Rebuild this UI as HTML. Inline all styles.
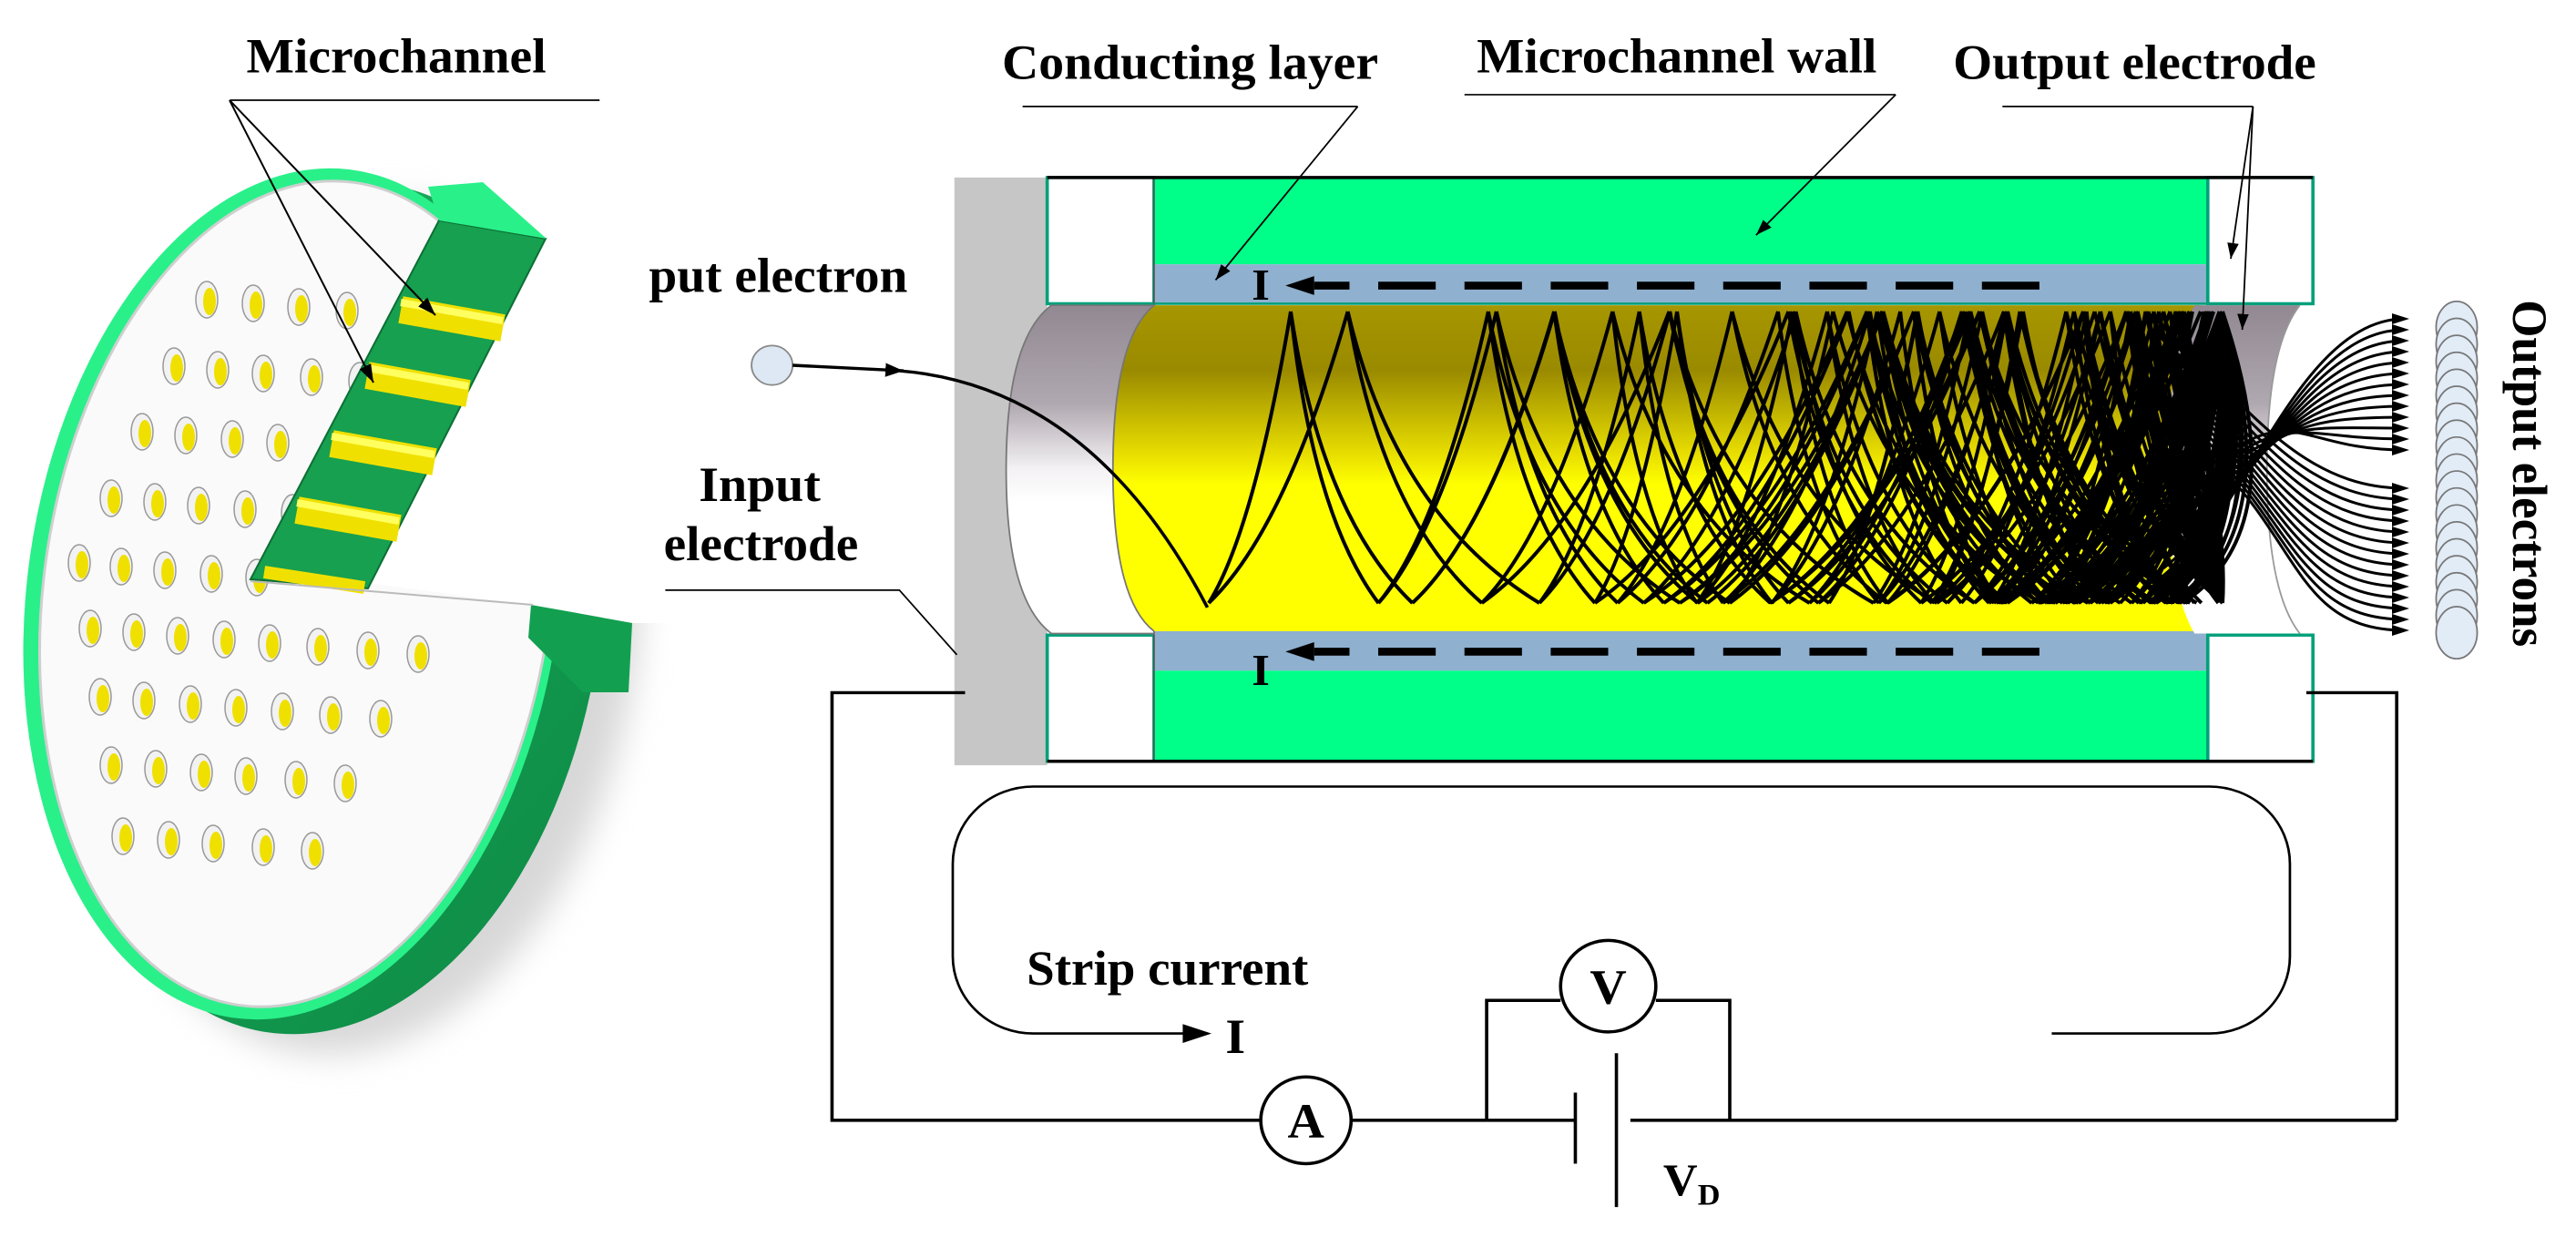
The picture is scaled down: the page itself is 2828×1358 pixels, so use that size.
<!DOCTYPE html>
<html><head><meta charset="utf-8"><style>
html,body{margin:0;padding:0;background:#fff;}
svg{display:block;}
text{font-family:"Liberation Serif",serif;font-weight:bold;fill:#000;}
</style></head><body>
<svg id="s" width="2828" height="1358" viewBox="0 0 2828 1358" xmlns="http://www.w3.org/2000/svg">
<defs>
<linearGradient id="yel" x1="0" y1="0" x2="0" y2="1">
<stop offset="0" stop-color="#a69600"/><stop offset="0.2" stop-color="#9a8a00"/><stop offset="0.45" stop-color="#e6dc00"/><stop offset="0.55" stop-color="#ffff00"/><stop offset="1" stop-color="#ffff00"/></linearGradient>
<linearGradient id="gry" x1="0" y1="0" x2="0" y2="1">
<stop offset="0" stop-color="#918891"/><stop offset="0.3" stop-color="#b0a8b0"/><stop offset="0.5" stop-color="#f4f2f4"/><stop offset="0.6" stop-color="#ffffff"/><stop offset="1" stop-color="#ffffff"/></linearGradient>
<linearGradient id="side" x1="0" y1="0" x2="1" y2="1">
<stop offset="0" stop-color="#18b060"/><stop offset="1" stop-color="#0e8a44"/></linearGradient>
<filter id="blur"><feGaussianBlur stdDeviation="18"/></filter>
<marker id="ahb" viewBox="0 0 10 10" refX="10" refY="5" markerWidth="22" markerHeight="22" markerUnits="userSpaceOnUse" orient="auto"><path d="M0,1 L10,5 L0,9 z"/></marker>
<marker id="ahs" viewBox="0 0 10 10" refX="10" refY="5" markerWidth="20" markerHeight="20" markerUnits="userSpaceOnUse" orient="auto"><path d="M0,1.5 L10,5 L0,8.5 z"/></marker>
</defs>

<g id="disk">
<ellipse cx="400" cy="690" rx="300" ry="470" transform="rotate(8 400 690)" fill="#d8d8d8" filter="url(#blur)"/>
<ellipse cx="360" cy="668" rx="300" ry="470" transform="rotate(8 360 668)" fill="url(#side)"/>
<ellipse cx="322" cy="652" rx="292" ry="470" transform="rotate(8 322 652)" fill="#2af08a"/>
<ellipse cx="326" cy="652" rx="278" ry="456" transform="rotate(8 326 652)" fill="#fafafa" stroke="#cfcfcf" stroke-width="3"/>
<g id="holes"></g>
<polygon points="404,640 599,262 610,150 830,150 830,684 694,684 583,664" fill="#fff"/>
<polygon points="583,664 694,684 690,760 640,760 580,700" fill="#12a050"/>
<polygon points="275,636 482,242 599,262 404,646" fill="#17a04f" stroke="#0c6e35" stroke-width="2"/>
<polygon points="470,205 530,200 600,262 482,242" fill="#2af08a"/>
<g stroke-linecap="butt">
<line x1="440" y1="340" x2="552" y2="360" stroke="#f0e000" stroke-width="30"/>
<line x1="403" y1="412" x2="514" y2="432" stroke="#f0e000" stroke-width="30"/>
<line x1="364" y1="487" x2="477" y2="507" stroke="#f0e000" stroke-width="30"/>
<line x1="326" y1="560" x2="438" y2="580" stroke="#f0e000" stroke-width="30"/>
<line x1="290" y1="628" x2="400" y2="645" stroke="#f0e000" stroke-width="14"/>
<line x1="440" y1="332" x2="552" y2="352" stroke="#ffff60" stroke-width="8"/>
<line x1="403" y1="404" x2="514" y2="424" stroke="#ffff60" stroke-width="8"/>
<line x1="364" y1="479" x2="477" y2="499" stroke="#ffff60" stroke-width="8"/>
<line x1="326" y1="552" x2="438" y2="572" stroke="#ffff60" stroke-width="8"/>
</g>
<line x1="275" y1="638" x2="585" y2="664" stroke="#bbb" stroke-width="2"/>
</g>

<g transform="scale(0.9017 0.8661)">
<rect x="1162" y="225" width="113" height="745" fill="#c6c6c6"/>
<rect x="1275" y="225" width="130" height="160" fill="#fff" stroke="#00a07a" stroke-width="4"/>
<rect x="1275" y="805" width="130" height="160" fill="#fff" stroke="#00a07a" stroke-width="4"/>
<rect x="1405" y="225" width="1283" height="110" fill="#00ff88"/>
<rect x="1405" y="850" width="1283" height="115" fill="#00ff88"/>
<rect x="1405" y="335" width="1283" height="50" fill="#8fb0cf"/>
<rect x="1405" y="800" width="1283" height="50" fill="#8fb0cf"/>
<line x1="1405" y1="225" x2="1405" y2="965" stroke="#555" stroke-width="2"/>
<rect x="2688" y="225" width="128" height="160" fill="#fff" stroke="#00a07a" stroke-width="4"/>
<rect x="2688" y="805" width="128" height="160" fill="#fff" stroke="#00a07a" stroke-width="4"/>
<line x1="1275" y1="225" x2="2816" y2="225" stroke="#000" stroke-width="4"/>
<line x1="1275" y1="965" x2="2816" y2="965" stroke="#000" stroke-width="4"/>
<line x1="1405" y1="385" x2="2688" y2="385" stroke="#00a07a" stroke-width="3"/>
<path d="M1280,387 L1405,387 L1405,803 L1280,803 Q1225,760 1225,595 Q1225,430 1280,387 Z" fill="url(#gry)" stroke="#777" stroke-width="2"/>
<path d="M1405,387 L2680,387 L2680,800 L1405,800 Q1355,760 1355,595 Q1355,430 1405,387 Z" fill="url(#yel)"/>
<path d="M1405,387 Q1355,430 1355,595 Q1355,760 1405,800" fill="none" stroke="#777" stroke-width="2"/>
<path d="M2672,387 L2800,387 Q2760,440 2760,595 Q2760,750 2800,803 L2672,803 Q2640,750 2640,595 Q2640,440 2672,387 Z" fill="url(#gry)"/>
<path d="M2800,387 Q2760,440 2760,595 Q2760,750 2800,803" fill="none" stroke="#999" stroke-width="2"/>

<line x1="2483" y1="362" x2="1600" y2="362" stroke="#000" stroke-width="10" stroke-dasharray="70 35"/>
<path d="M1600,350 L1565,362 L1600,374 Z"/>
<line x1="2483" y1="826" x2="1600" y2="826" stroke="#000" stroke-width="10" stroke-dasharray="70 35"/>
<path d="M1600,814 L1565,826 L1600,838 Z"/>
<text x="1535" y="380" font-size="56" text-anchor="middle">I</text>
<text x="1535" y="868" font-size="56" text-anchor="middle">I</text>

<text x="300" y="92" font-size="62" textLength="365" lengthAdjust="spacingAndGlyphs">Microchannel</text>
<line x1="280" y1="127" x2="730" y2="127" stroke="#000" stroke-width="2"/>
<text x="1220" y="100" font-size="62" textLength="458" lengthAdjust="spacingAndGlyphs">Conducting layer</text>
<line x1="1245" y1="135" x2="1653" y2="135" stroke="#000" stroke-width="2"/>
<line x1="1653" y1="135" x2="1480" y2="355" stroke="#000" stroke-width="2" marker-end="url(#ahs)"/>
<text x="1798" y="92" font-size="62" textLength="487" lengthAdjust="spacingAndGlyphs">Microchannel wall</text>
<line x1="1783" y1="120" x2="2308" y2="120" stroke="#000" stroke-width="2"/>
<line x1="2308" y1="120" x2="2138" y2="298" stroke="#000" stroke-width="2" marker-end="url(#ahs)"/>
<text x="2378" y="100" font-size="62" textLength="442" lengthAdjust="spacingAndGlyphs">Output electrode</text>
<line x1="2438" y1="135" x2="2743" y2="135" stroke="#000" stroke-width="2"/>
<line x1="2743" y1="135" x2="2716" y2="328" stroke="#000" stroke-width="2" marker-end="url(#ahs)"/>
<line x1="2743" y1="135" x2="2730" y2="418" stroke="#000" stroke-width="2" marker-end="url(#ahs)"/>
<text x="790" y="370" font-size="62" textLength="315" lengthAdjust="spacingAndGlyphs">put electron</text>
<text x="925" y="635" font-size="62" text-anchor="middle">Input</text>
<text x="808" y="710" font-size="62" textLength="237" lengthAdjust="spacingAndGlyphs">electrode</text>
<polyline points="810,748 1095,748 1165,830" fill="none" stroke="#000" stroke-width="2"/>

<circle cx="940" cy="463" r="25" fill="#dde8f4" stroke="#888" stroke-width="2"/>
<path d="M965,463 L1100,470" fill="none" stroke="#000" stroke-width="4" marker-end="url(#ahb)"/>
<path d="M1095,470 Q1330,490 1470,770" fill="none" stroke="#000" stroke-width="4"/>

<g id="oel" fill="#e2ecf7" stroke="#777" stroke-width="2"></g>
<text font-size="60" transform="translate(3060,380) rotate(90)" textLength="440" lengthAdjust="spacingAndGlyphs">Output electrons</text>

<g fill="none" stroke="#000" stroke-width="4">
<polyline points="1175,878 1013,878 1013,1420 1535,1420"/>
<line x1="1645" y1="1420" x2="1810" y2="1420"/>
<polyline points="1810,1420 1810,1268 1900,1268"/>
<polyline points="2016,1268 2106,1268 2106,1420"/>
<line x1="1810" y1="1420" x2="1918" y2="1420"/>
<line x1="1985" y1="1420" x2="2918" y2="1420"/>
<polyline points="2808,878 2918,878 2918,1420"/>
<line x1="1918" y1="1385" x2="1918" y2="1475"/>
<line x1="1968" y1="1335" x2="1968" y2="1530"/>
<circle cx="1958" cy="1250" r="58" fill="#fff"/>
<circle cx="1590" cy="1420" r="55" fill="#fff"/>
<path d="M2498,1310 H2690 A98,98 0 0 0 2788,1212 V1095 A98,98 0 0 0 2690,997 H1258 A98,98 0 0 0 1160,1095 V1212 A98,98 0 0 0 1258,1310 H1470" stroke-width="3"/>
</g>
<path d="M1475,1310 L1440,1298 L1440,1322 Z"/>
<text x="1958" y="1272" font-size="62" text-anchor="middle">V</text>
<text x="1590" y="1442" font-size="62" text-anchor="middle">A</text>
<text x="1250" y="1248" font-size="62" textLength="343" lengthAdjust="spacingAndGlyphs">Strip current</text>
<text x="1492" y="1335" font-size="62">I</text>
<text x="2025" y="1515" font-size="58">V<tspan font-size="38" dy="12">D</tspan></text>
</g>

<g stroke="#000" stroke-width="2">
<line x1="252" y1="110" x2="478" y2="346" marker-end="url(#ahs)"/>
<line x1="252" y1="110" x2="410" y2="420" marker-end="url(#ahs)"/>
</g>

<g id="traj" fill="none" stroke="#000" stroke-width="4"></g>
<g id="fan" fill="none" stroke="#000" stroke-width="3"></g>
</svg>
<script>
(function(){
var NS="http://www.w3.org/2000/svg";
function el(p,t,a){var e=document.createElementNS(NS,t);for(var k in a)e.setAttribute(k,a[k]);p.appendChild(e);return e;}
var H=document.getElementById('holes');
var rows=[[329,[227,278,328,381]],[402,[191,239,289,342,395]],[474,[156,204,255,305]],[547,[122,170,218,269,321]],[618,[87,133,181,232,282]],[690,[99,147,195,246,296,349,404,459]],[765,[110,158,209,259,310,363,418]],[840,[122,171,221,270,325,379]],[918,[135,185,234,289,343]]];
rows.forEach(function(r){r[1].forEach(function(x,i){var y=r[0]+i*4;
el(H,'ellipse',{cx:x,cy:y,rx:12,ry:20,fill:'#f2f2f2',stroke:'#999','stroke-width':1.5});
el(H,'ellipse',{cx:x+3,cy:y+2,rx:7,ry:15,fill:'#f0e000'});});});
var O=document.getElementById('oel');
for(var i=0;i<19;i++){el(O,'ellipse',{cx:2991,cy:415+i*21.5,rx:25,ry:33});}
var seed=11;function rnd(){seed=(seed*16807)%2147483647;return seed/2147483647;}
var T=document.getElementById('traj');
var TOP=342,BOT=662,XEND=2400;
var d='';var q=[[1327,BOT]];var count=0;
while(q.length&&count<1600){var s=q.shift();var x=s[0],y=s[1];if(x>XEND)continue;
 var n=(x<1550)?2:(rnd()<0.72?2:1);
 for(var k=0;k<n;k++){var dx=90+rnd()*140;var x1=x+dx;var y1=(y==BOT)?TOP:BOT;
  if(x1>XEND+40)x1=XEND+40;
  var cx=(y==BOT)?x+dx*0.55:x+dx*0.25;var cy=(y==BOT)?y-(BOT-TOP)*0.25:y+(BOT-TOP)*0.7;
  d+='M'+x.toFixed(1)+','+y+' Q'+cx.toFixed(1)+','+cy.toFixed(1)+' '+x1.toFixed(1)+','+y1+' ';
  count++;if(x1<XEND)q.push([x1,y1]);}
}
el(T,'path',{d:d});
var F=document.getElementById('fan');var fd='';
for(var i=0;i<13;i++){var ye=350+i*12;var xs=2360+i*5,ys=660-i*12;
 fd+='M'+xs+','+ys+' C'+(xs+100)+','+(ys-80)+' 2520,'+ye+' 2640,'+ye+' ';
 el(F,'path',{d:'M2626,'+(ye-6)+' L2645,'+ye+' L2626,'+(ye+6)+' Z',fill:'#000',stroke:'none'});}
for(var i=0;i<14;i++){var ye=536+i*12;var xs=2360+i*5,ys=345+i*12;
 fd+='M'+xs+','+ys+' C'+(xs+100)+','+(ys+90)+' 2520,'+ye+' 2640,'+ye+' ';
 el(F,'path',{d:'M2626,'+(ye-6)+' L2645,'+ye+' L2626,'+(ye+6)+' Z',fill:'#000',stroke:'none'});}
el(F,'path',{d:fd});
})();
</script>
</body></html>
